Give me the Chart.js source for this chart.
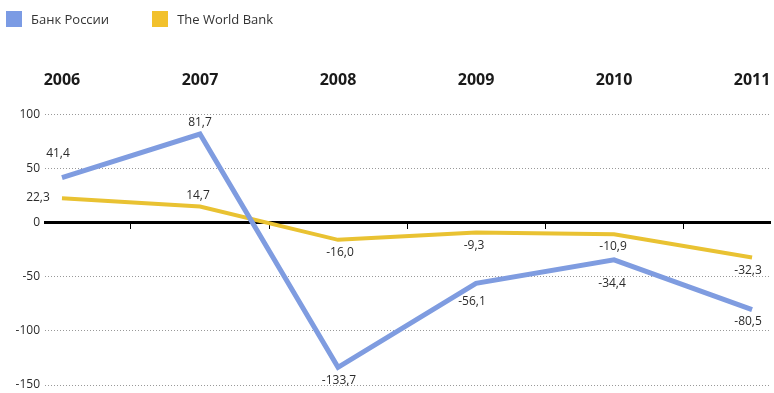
<!DOCTYPE html>
<html>
<head>
<meta charset="utf-8">
<script src="https://cdn.jsdelivr.net/npm/chart.js@4.4.1/dist/chart.umd.min.js"></script>
<style>
  html, body { margin: 0; padding: 0; background: #fff; }
  #wrap { position: relative; width: 774px; height: 393px; }
  #legend { position: absolute; left: 6px; top: 10px; display: flex; font: 13px "Open Sans", sans-serif; color: #333; }
  #legend .item { display: flex; align-items: center; margin-right: 43px; }
  #legend .box { width: 16px; height: 16px; margin-right: 9px; }
</style>
</head>
<body>
<div id="wrap">
  <canvas id="myChart" width="774" height="393"></canvas>
  <div id="legend"></div>
</div>
<script>
  "use strict";

  // data
  const years = ['2006', '2007', '2008', '2009', '2010', '2011'];
  const bankRussia = [41.4, 81.7, -133.7, -56.1, -34.4, -80.5];
  const worldBank = [22.3, 14.7, -16.0, -9.3, -10.9, -32.3];
  const yTicks = [100, 50, 0, -50, -100, -150];

  const seriesNames = ['Банк России', 'The World Bank'];
  const seriesColors = ['#7f9ce0', '#e9c232'];
  const legendColors = ['#7b9be4', '#f2c12c'];

  function toPoints(values) {
    return values.map((v, i) => ({ x: i, y: v }));
  }

  function fmt(v) {
    return v.toFixed(1).replace('.', ',');
  }

  // value labels next to each point
  const pointLabels = {
    id: 'pointLabels',
    afterDatasetsDraw(chart, args, opts) {
      const ctx = chart.ctx;
      ctx.save();
      ctx.font = '12px "Open Sans", sans-serif';
      ctx.fillStyle = '#2b2b2b';
      ctx.textAlign = 'center';
      ctx.textBaseline = 'middle';
      chart.data.datasets.forEach((ds, di) => {
        const meta = chart.getDatasetMeta(di);
        meta.data.forEach((pt, i) => {
          const off = opts.offsets[di][i];
          ctx.fillText(fmt(ds.data[i].y), pt.x + off[0], pt.y + off[1]);
        });
      });
      ctx.restore();
    }
  };

  // no extra room for edge labels, the plot runs to the canvas edges
  function noPadding(scale) {
    scale.paddingLeft = 0;
    scale.paddingRight = 0;
    scale.paddingTop = 0;
    scale.paddingBottom = 0;
  }

  const xMin = -0.123;
  const xMax = 5.13;

  const data_ch = {
    datasets: [
      {
        label: seriesNames[0],
        data: toPoints(bankRussia),
        borderColor: seriesColors[0],
        borderWidth: 5,
        pointRadius: 0,
        tension: 0
      },
      {
        label: seriesNames[1],
        data: toPoints(worldBank),
        borderColor: seriesColors[1],
        borderWidth: 4,
        pointRadius: 0,
        tension: 0
      }
    ]
  };

  const config_ch = {
    type: 'line',
    data: data_ch,
    plugins: [pointLabels],
    options: {
      responsive: false,
      animation: false,
      layout: {
        padding: { top: 47, right: 4, bottom: 8, left: 0 }
      },
      scales: {
        x: {
          type: 'linear',
          min: xMin,
          max: xMax,
          position: { y: 0 },
          afterBuildTicks: function (scale) {
            scale.ticks = years.slice(1).map((y, i) => ({ value: i + 0.5 }));
          },
          afterFit: noPadding,
          ticks: { display: false },
          grid: {
            drawOnChartArea: false,
            drawTicks: true,
            tickLength: 5,
            tickColor: '#000',
            tickWidth: 1
          },
          border: { display: true, color: '#000', width: 3 }
        },
        xTop: {
          type: 'linear',
          min: xMin,
          max: xMax,
          position: 'top',
          afterBuildTicks: function (scale) {
            scale.ticks = years.map((y, i) => ({ value: i }));
          },
          afterFit: noPadding,
          ticks: {
            callback: function (value) {
              return years[value];
            },
            color: '#1a1a1a',
            font: { family: '"Open Sans", sans-serif', size: 16, weight: 'bold' },
            padding: 24,
            maxRotation: 0,
            autoSkip: false
          },
          grid: { display: false, drawTicks: false },
          border: { display: false }
        },
        y: {
          min: -150,
          max: 100,
          afterBuildTicks: function (scale) {
            scale.ticks = yTicks.map(v => ({ value: v }));
          },
          afterFit: function (scale) {
            scale.width = 45;
            noPadding(scale);
          },
          ticks: {
            color: '#2b2b2b',
            font: { family: '"Open Sans", sans-serif', size: 12 },
            padding: 5
          },
          grid: {
            drawTicks: false,
            lineWidth: 1,
            color: function (ctx) {
              return ctx.tick && ctx.tick.value === 0 ? 'rgba(0,0,0,0)' : '#999';
            }
          },
          border: { display: false, dash: [1, 2] }
        }
      },
      plugins: {
        legend: { display: false },
        tooltip: { enabled: false },
        pointLabels: {
          offsets: [
            [[-4, -24], [0, -11], [1, 13], [-4, 18], [-2, 24], [-4, 12]],
            [[-24, -1], [-2, -11], [2, 13], [-2, 13], [-1, 12], [-4, 13]]
          ]
        }
      }
    }
  };

  const ctx_ch = document.getElementById('myChart');
  const myChart = new Chart(ctx_ch, config_ch);

  // legend
  const legendEl = document.getElementById('legend');
  seriesNames.forEach((name, i) => {
    const item = document.createElement('div');
    item.className = 'item';
    const box = document.createElement('span');
    box.className = 'box';
    box.style.background = legendColors[i];
    const txt = document.createElement('span');
    txt.textContent = name;
    item.appendChild(box);
    item.appendChild(txt);
    legendEl.appendChild(item);
  });
</script>
</body>
</html>
